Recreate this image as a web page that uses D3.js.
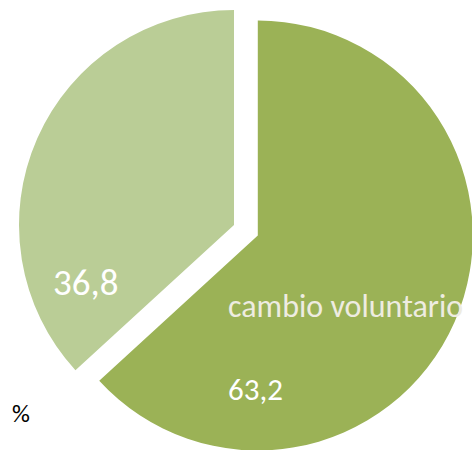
<!DOCTYPE html>
<html>
<head>
<meta charset="utf-8">
<script src="https://cdn.jsdelivr.net/npm/d3@7"></script>
<style>
  html, body { margin: 0; padding: 0; background: #fff; }
  svg { display: block; }
  text { font-family: Carlito, Lato, "Open Sans", sans-serif; }
</style>
</head>
<body>
<svg id="chart" width="472" height="450"></svg>
<script>
// Data
const categories = ["cambio voluntario", ""];
const values = [63.2, 36.8];
const valueLabels = ["63,2", "36,8"];
const unitLabel = "%";
const colors = ["#9BB256", "#BACD96"];

const W = 472, H = 450;
const cx = 234, cy = 225, R = 215;
const explode = [26, 0];

const svg = d3.select("#chart");
const pie = d3.pie().sort(null).value(d => d)(values);
const arc = d3.arc().innerRadius(0).outerRadius(R);

const g = svg.append("g").attr("transform", `translate(${cx},${cy})`);

const slices = g.selectAll("g.slice").data(pie).join("g")
  .attr("class", "slice")
  .attr("transform", (d, i) => {
    const a = (d.startAngle + d.endAngle) / 2;
    const off = explode[i];
    return `translate(${Math.sin(a) * off},${-Math.cos(a) * off})`;
  });

slices.append("path")
  .attr("d", arc)
  .attr("fill", (d, i) => colors[i]);

// Labels
svg.append("text")
  .attr("x", 53).attr("y", 295)
  .attr("font-size", 37).attr("fill", "#ffffff")
  .text(valueLabels[1]);

svg.append("text")
  .attr("x", 228).attr("y", 317)
  .attr("font-size", 32).attr("fill", "#EEECE1")
  .text(categories[0]);

svg.append("text")
  .attr("x", 228).attr("y", 400)
  .attr("font-size", 31).attr("fill", "#ffffff")
  .text(valueLabels[0]);

svg.append("text")
  .attr("x", 12).attr("y", 422)
  .attr("font-size", 25).attr("fill", "#000000")
  .text(unitLabel);
</script>
</body>
</html>
